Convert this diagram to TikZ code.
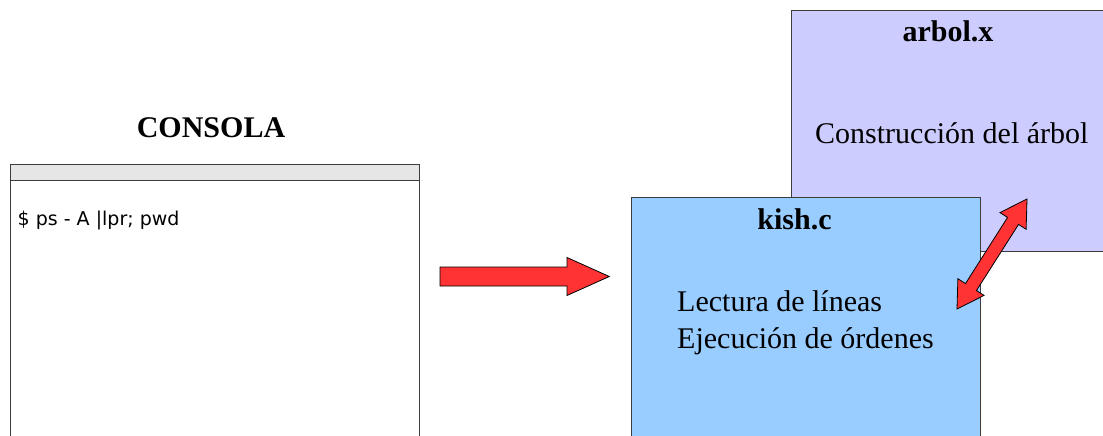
\documentclass[tikz,border=0pt]{standalone}
\usepackage{fontspec}
\setmainfont{Liberation Serif}
\newfontfamily\consolefont{DejaVu Sans}
\usetikzlibrary{calc}
\definecolor{arbolfill}{HTML}{CCCCFF}
\definecolor{kishfill}{HTML}{99CCFF}
\definecolor{barfill}{HTML}{E6E6E6}
\definecolor{arrowred}{HTML}{FF3333}
\definecolor{edgegray}{HTML}{3C3C3C}
\tikzset{
  panel/.style={draw=edgegray, line width=1pt, inner sep=0pt, anchor=north west},
  blockarrow/.style={draw=black, fill=arrowred, line width=0.8pt, line join=miter},
  title/.style={inner sep=0pt, font=\fontsize{30}{36}\selectfont\bfseries},
  body/.style={inner sep=0pt, font=\fontsize{30}{36}\selectfont},
  cmd/.style={inner sep=0pt, font=\consolefont\fontsize{19}{23}\selectfont}
}
\begin{document}
\begin{tikzpicture}[x=1pt, y=-1pt]
\useasboundingbox (0,0) rectangle (1103,436);
\clip (0,0) rectangle (1103,436);
% console window
\node[panel, fill=white, minimum width=409pt, minimum height=300pt] (console) at (10,164) {};
\node[panel, fill=barfill, minimum width=409pt, minimum height=16pt] (bar) at (10,164) {};
\node[title, anchor=base] (consola) at (211,137.7) {CONSOLA};
\node[cmd, anchor=base west] (cmdtext) at (17.5,225.5) {\$ ps - A |lpr; pwd};
% arbol.x box
\node[panel, fill=arbolfill, minimum width=340pt, minimum height=241pt] (arbol) at (791,10) {};
\node[title, anchor=base] (arboltitle) at (948,41.7) {arbol.x};
\node[body, anchor=base west] (construccion) at (815,143.3) {Construcción del árbol};
% kish.c box
\node[panel, fill=kishfill, minimum width=349pt, minimum height=280pt] (kish) at (631,197) {};
\node[title, anchor=base] (kishtitle) at (794.5,229.3) {kish.c};
\node[body, anchor=base west] (lectura) at (677,311.7) {Lectura de líneas};
\node[body, anchor=base west] (ejecucion) at (677,348.5) {Ejecución de órdenes};
% horizontal block arrow
\coordinate (r1) at (440,276.5);
\coordinate (r2) at (609.3,276.5);
\path[blockarrow] (r1) ++(0,-9.5) -- ++(127,0) -- ++(0,-9.5) -- (r2)
  -- ($(r2)+(-42.3,19)$) -- ++(0,-9.5) -- ($(r1)+(0,9.5)$) -- cycle;
% double block arrow between kish.c and arbol.x
\coordinate (d1) at (1027,199);
\coordinate (d2) at (957,309);
\path[blockarrow] (d1)
  -- ($(d1)!26pt!(d2)!15.5pt!90:(d2)$)
  -- ($(d1)!26pt!(d2)!6.5pt!90:(d2)$)
  -- ($(d2)!26pt!(d1)!6.5pt!-90:(d1)$)
  -- ($(d2)!26pt!(d1)!15.5pt!-90:(d1)$)
  -- (d2)
  -- ($(d2)!26pt!(d1)!15.5pt!90:(d1)$)
  -- ($(d2)!26pt!(d1)!6.5pt!90:(d1)$)
  -- ($(d1)!26pt!(d2)!6.5pt!-90:(d2)$)
  -- ($(d1)!26pt!(d2)!15.5pt!-90:(d2)$)
  -- cycle;
\end{tikzpicture}
\end{document}
